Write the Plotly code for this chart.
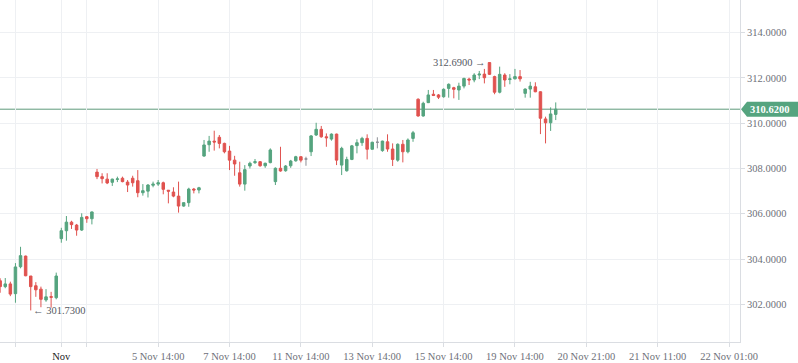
import plotly.graph_objects as go

# ---------------- data ----------------
opens = [303.04, 302.78, 302.90, 302.47, 303.66, 304.13, 303.25, 302.82, 302.67, 302.19,
         302.34, 302.29, 304.90, 305.25, 305.63, 305.50, 305.28, 305.87, 305.78, 307.84,
         307.64, 307.53, 307.39, 307.52, 307.57, 307.40, 307.57, 307.46, 306.93, 307.00,
         307.26, 307.31, 307.37, 307.04, 306.96, 306.78, 306.34, 306.49, 307.09, 307.05,
         308.55, 309.05, 309.21, 309.38, 309.11, 308.77, 308.37, 307.81, 307.31, 308.11,
         308.26, 308.30, 308.12, 308.26, 307.42, 308.01, 307.90, 308.12, 308.34, 308.52,
         308.42, 308.74, 309.48, 309.73, 309.40, 309.30, 309.52, 308.15, 307.90, 308.40,
         309.01, 309.14, 309.33, 308.85, 309.16, 308.79, 309.18, 308.86, 308.37, 309.07,
         308.74, 309.33, 311.06, 310.32, 310.91, 311.28, 311.25, 311.17, 311.54, 311.57,
         311.47, 311.64, 311.95, 311.91, 312.13, 312.17, 312.68, 312.06, 311.37, 312.13,
         311.93, 311.96, 312.06, 311.32, 311.51, 311.61, 311.39, 310.19, 310.02, 310.39]
highs = [303.15, 303.16, 303.00, 303.82, 304.54, 304.15, 303.25, 302.98, 302.78, 302.67,
         302.55, 303.40, 305.38, 305.90, 305.69, 305.55, 306.02, 305.90, 306.10, 307.98,
         307.79, 307.79, 307.55, 307.64, 307.64, 307.49, 307.68, 307.93, 307.31, 307.31,
         307.42, 307.49, 307.42, 307.05, 307.17, 307.42, 306.50, 307.15, 307.14, 307.19,
         309.26, 309.44, 309.67, 309.48, 309.14, 309.00, 308.56, 308.30, 308.15, 308.30,
         308.42, 308.33, 308.26, 308.89, 308.05, 308.96, 308.15, 308.38, 308.56, 308.54,
         308.52, 309.48, 310.02, 309.88, 309.55, 309.55, 309.54, 308.96, 308.52, 309.04,
         309.29, 309.40, 309.51, 309.18, 309.38, 309.23, 309.51, 309.11, 309.11, 309.26,
         309.33, 309.66, 311.10, 310.95, 311.47, 311.47, 311.29, 311.54, 311.76, 311.61,
         311.79, 312.01, 312.01, 312.21, 312.31, 312.40, 312.69, 312.10, 312.50, 312.21,
         312.17, 312.40, 312.35, 311.54, 311.83, 311.81, 311.41, 310.29, 310.70, 310.92]
lows = [302.51, 302.71, 302.36, 302.07, 303.59, 303.24, 301.73, 302.33, 301.87, 302.11,
        301.85, 302.22, 304.72, 304.81, 305.33, 305.03, 305.24, 305.60, 305.53, 307.53,
        307.34, 307.31, 307.23, 307.40, 307.39, 306.96, 307.20, 306.73, 306.80, 306.72,
        307.17, 307.23, 306.86, 306.46, 306.73, 306.05, 306.31, 306.31, 306.90, 306.90,
        308.52, 308.74, 308.79, 308.89, 308.67, 307.93, 307.68, 307.20, 307.02, 308.00,
        308.20, 308.08, 308.03, 308.23, 307.27, 307.86, 307.86, 308.03, 308.30, 308.27,
        308.12, 308.55, 309.44, 309.36, 308.96, 309.23, 308.15, 307.71, 307.86, 308.37,
        308.67, 309.00, 308.40, 308.84, 308.89, 308.74, 308.74, 308.11, 308.30, 308.27,
        308.67, 309.18, 310.29, 310.29, 310.89, 311.20, 311.07, 311.13, 311.13, 311.10,
        311.03, 311.54, 311.69, 311.81, 311.95, 311.76, 312.13, 311.28, 311.32, 311.61,
        311.72, 311.94, 311.84, 311.13, 311.13, 311.37, 309.52, 309.11, 309.66, 310.14]
closes = [302.78, 302.90, 302.45, 303.65, 304.15, 303.26, 302.78, 302.64, 302.22, 302.33,
          302.31, 303.25, 305.25, 305.63, 305.52, 305.28, 305.84, 305.78, 306.08, 307.64,
          307.55, 307.36, 307.53, 307.54, 307.42, 307.27, 307.37, 306.93, 307.02, 307.27,
          307.31, 307.37, 307.08, 307.00, 306.78, 306.34, 306.49, 307.09, 307.05, 307.15,
          309.04, 309.21, 309.17, 309.11, 308.74, 308.37, 308.20, 307.31, 307.95, 308.23,
          308.30, 308.12, 308.23, 308.82, 308.01, 307.89, 308.11, 308.33, 308.52, 308.37,
          308.42, 309.44, 309.73, 309.40, 309.36, 309.52, 308.37, 308.89, 308.40, 309.00,
          309.14, 309.33, 308.85, 309.16, 309.16, 309.21, 308.86, 308.40, 309.07, 308.74,
          309.26, 309.58, 310.32, 310.88, 311.25, 311.23, 311.15, 311.50, 311.72, 311.50,
          311.64, 311.98, 311.91, 312.13, 312.17, 312.01, 312.16, 311.37, 312.16, 311.91,
          311.96, 312.06, 311.96, 311.51, 311.64, 311.39, 310.22, 310.02, 310.41, 310.62]

xtick_idx = [3, 12, 17, 31, 45, 59, 73, 87, 101, 115, 129, 143]
xtick_labels = ["", "Nov", "", "5 Nov 14:00", "7 Nov 14:00", "11 Nov 14:00",
                "13 Nov 14:00", "15 Nov 14:00", "19 Nov 14:00", "20 Nov 21:00",
                "21 Nov 11:00", "22 Nov 01:00"]
ytick_vals = [302, 304, 306, 308, 310, 312, 314]

# ---------------- styling ----------------
UP = "#55a47f"
DOWN = "#e0524f"
FLAT = "#8c8f96"
GRID = "#eef0f3"
AXIS = "#dadde2"
TXT = "#6e7079"
FONT = "Liberation Serif, Times New Roman, serif"

W, H = 798, 363
ML, MR, MT, MB = 0, 58, 0, 21
PW = W - ML - MR
PH = H - MT - MB
x_range = [-0.03, 145.15]
y_range = [300.334, 315.445]
px_per_price = PH / (y_range[1] - y_range[0])

idx = list(range(len(opens)))
main_i = [i for i in idx if opens[i] != closes[i]]
flat_i = [i for i in idx if opens[i] == closes[i]]

def pick(arr, sel):
    return [arr[i] for i in sel]

fig = go.Figure()
fig.add_trace(go.Candlestick(
    x=main_i, open=pick(opens, main_i), high=pick(highs, main_i),
    low=pick(lows, main_i), close=pick(closes, main_i),
    increasing=dict(line=dict(color=UP, width=1), fillcolor=UP),
    decreasing=dict(line=dict(color=DOWN, width=1), fillcolor=DOWN),
    showlegend=False, hoverinfo="skip"))
fig.add_trace(go.Candlestick(
    x=flat_i, open=pick(opens, flat_i), high=pick(highs, flat_i),
    low=pick(lows, flat_i), close=pick(closes, flat_i),
    increasing=dict(line=dict(color=FLAT, width=1), fillcolor=FLAT),
    decreasing=dict(line=dict(color=FLAT, width=1), fillcolor=FLAT),
    showlegend=False, hoverinfo="skip"))

# max / min markers
i_max = max(idx, key=lambda i: highs[i])
i_min = min(idx, key=lambda i: lows[i])
annotations = [
    dict(x=i_max - 0.2, y=highs[i_max], xref="x", yref="y", text=f"{highs[i_max]:.4f} →",
         showarrow=False, xanchor="right", yanchor="middle",
         font=dict(family=FONT, size=10.5, color="#555862")),
    dict(x=i_min + 0.1, y=lows[i_min], xref="x", yref="y", text=f"← {lows[i_min]:.4f}",
         showarrow=False, xanchor="left", yanchor="middle",
         font=dict(family=FONT, size=10.5, color="#555862")),
]

last = closes[-1]
half_h = 7.5 / px_per_price
x_tip = 1 + 1 / PW
x_body = 1 + 7 / PW
x_end = 1 + 58 / PW
shapes = [
    dict(type="line", xref="paper", yref="y", x0=0, x1=1, y0=last, y1=last,
         line=dict(color="#5f9a7c", width=1), layer="below"),
    dict(type="path", xref="paper", yref="y",
         path=(f"M {x_tip},{last} L {x_body},{last + half_h} L {x_end},{last + half_h} "
               f"L {x_end},{last - half_h} L {x_body},{last - half_h} Z"),
         fillcolor=UP, line=dict(width=0), layer="above"),
]
annotations.append(dict(x=1 + 29.5 / PW, y=last, xref="paper", yref="y",
                        text=f"<b>{last:.4f}</b>", showarrow=False,
                        xanchor="center", yanchor="middle",
                        font=dict(family=FONT, size=10.5, color="white")))

ticktext = [f'<span style="color:#222">{t}</span>' if t == "Nov" else t for t in xtick_labels]

fig.update_layout(
    width=W, height=H,
    margin=dict(l=ML, r=MR, t=MT, b=MB),
    paper_bgcolor="white", plot_bgcolor="white",
    showlegend=False,
    annotations=annotations, shapes=shapes,
    xaxis=dict(range=x_range, rangeslider=dict(visible=False), type="linear",
               tickmode="array", tickvals=xtick_idx, ticktext=ticktext,
               showgrid=True, gridcolor=GRID, gridwidth=1,
               zeroline=False, showline=True, linecolor=AXIS, linewidth=1,
               ticks="outside", ticklen=4, tickcolor=AXIS,
               tickfont=dict(family=FONT, size=10.5, color=TXT), fixedrange=True),
    yaxis=dict(range=y_range, side="right", tickmode="array", tickvals=ytick_vals,
               tickformat=".4f", showgrid=True, gridcolor=GRID, gridwidth=1,
               zeroline=False, showline=True, linecolor=AXIS, linewidth=1,
               ticks="outside", ticklen=4, tickcolor=AXIS,
               tickfont=dict(family=FONT, size=10.5, color=TXT), fixedrange=True),
)

fig.write_html(
    "out.html",
    config={"displayModeBar": False},
    post_script="document.body.style.margin='0';document.body.style.overflow='hidden';",
)
